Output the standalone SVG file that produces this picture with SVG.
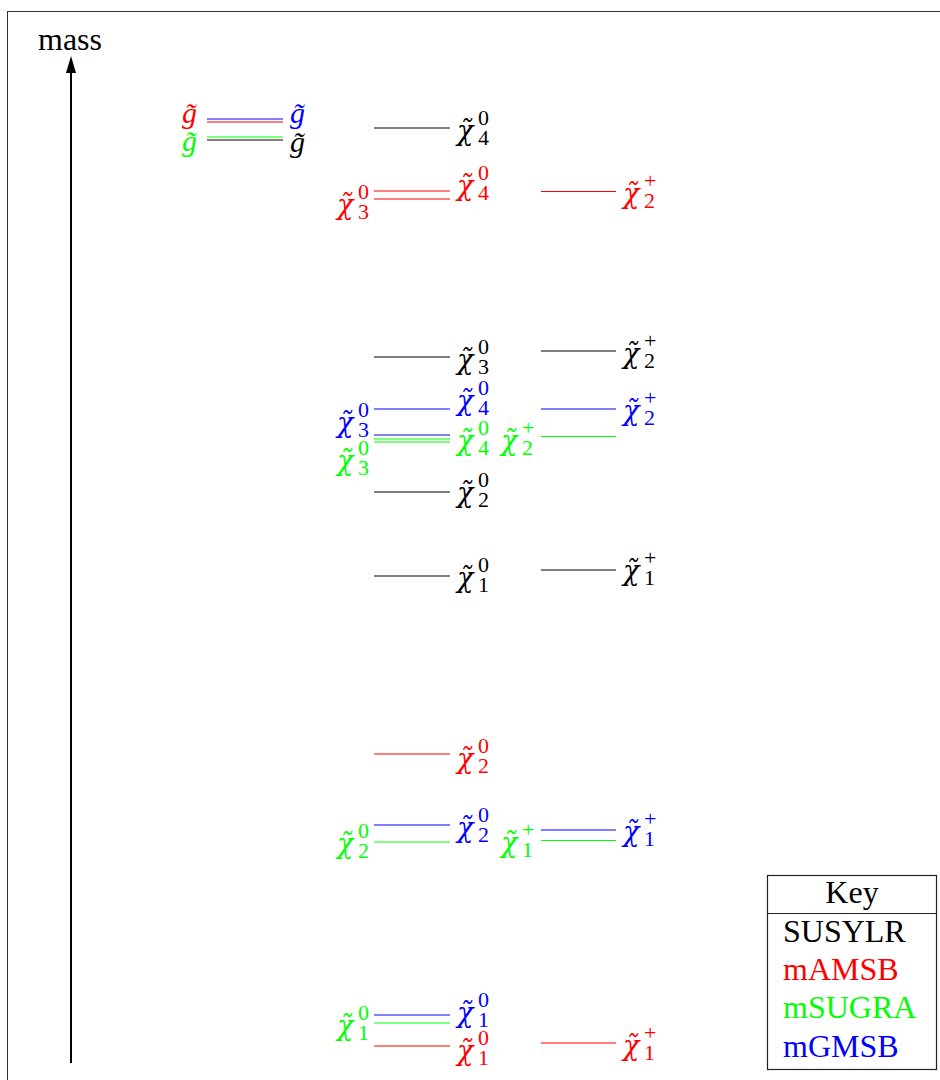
<svg xmlns="http://www.w3.org/2000/svg" width="940" height="1080" viewBox="0 0 940 1080">
<style>
text{font-family:"Liberation Serif","DejaVu Serif",serif;}
.m{font-style:italic;font-size:30px;}
.c{font-family:"DejaVu Serif",serif;font-style:italic;font-size:27px;}
.s{font-family:"Liberation Serif",serif;font-style:normal;font-size:22px;}
.t{font-size:32px;}
.lv{stroke-width:1.2;fill:none;}
.k{fill:#000;stroke:#000;}
.r{fill:#ff0000;stroke:#ff0000;}
.g{fill:#00ff00;stroke:#00ff00;}
.b{fill:#0000ff;stroke:#0000ff;}
text.k,text.r,text.g,text.b{stroke:none;}
</style>
<rect x="7.5" y="11.5" width="940" height="1080" fill="#fff" stroke="#333" stroke-width="1"/>
<g id="connectors">
<line x1="71" y1="1063" x2="71" y2="70" stroke="#000" stroke-width="2"/>
<polygon points="71,56 66,73 76,73" fill="#000"/>
</g>
<text x="38" y="50" class="t">mass</text>

<g id="gluino">
<line class="lv b" x1="207" y1="119" x2="283" y2="119"/>
<line class="lv r" x1="207" y1="122" x2="283" y2="122"/>
<line class="lv g" x1="207" y1="137" x2="283" y2="137"/>
<line class="lv k" x1="207" y1="140" x2="283" y2="140"/>
<text class="m r" x="182" y="123">g̃</text>
<text class="m b" x="290" y="123">g̃</text>
<text class="m g" x="182" y="151">g̃</text>
<text class="m k" x="290" y="152">g̃</text>
</g>

<g id="neutralino-levels">
<line class="lv k" x1="374" y1="128" x2="450" y2="128"/>
<line class="lv r" x1="374" y1="191" x2="450" y2="191"/>
<line class="lv r" x1="374" y1="199" x2="450" y2="199"/>
<line class="lv k" x1="374" y1="357" x2="450" y2="357"/>
<line class="lv b" x1="374" y1="409" x2="450" y2="409"/>
<line class="lv b" x1="374" y1="435" x2="450" y2="435"/>
<line class="lv g" x1="374" y1="439" x2="450" y2="439"/>
<line class="lv g" x1="374" y1="442" x2="450" y2="442"/>
<line class="lv k" x1="374" y1="492" x2="450" y2="492"/>
<line class="lv k" x1="374" y1="576" x2="450" y2="576"/>
<line class="lv r" x1="374" y1="754" x2="450" y2="754"/>
<line class="lv b" x1="374" y1="825" x2="450" y2="825"/>
<line class="lv g" x1="374" y1="842" x2="450" y2="842"/>
<line class="lv b" x1="374" y1="1015" x2="450" y2="1015"/>
<line class="lv g" x1="374" y1="1023" x2="450" y2="1023"/>
<line class="lv r" x1="374" y1="1046" x2="450" y2="1046"/>
</g>

<g id="chargino-levels">
<line class="lv r" x1="541" y1="191.5" x2="616" y2="191.5"/>
<line class="lv k" x1="541" y1="351" x2="616" y2="351"/>
<line class="lv b" x1="541" y1="409" x2="616" y2="409"/>
<line class="lv g" x1="541" y1="436.5" x2="616" y2="436.5"/>
<line class="lv k" x1="541" y1="570" x2="616" y2="570"/>
<line class="lv b" x1="541" y1="830" x2="616" y2="830"/>
<line class="lv g" x1="541" y1="840.5" x2="616" y2="840.5"/>
<line class="lv r" x1="541" y1="1043" x2="616" y2="1043"/>
</g>

<g id="labels">
<!-- neutralino right -->
<text class="c k" transform="translate(458,140)" x="-1" y="0">χ̃<tspan class="s" x="20" y="-15">0</tspan><tspan class="s" x="20" y="5">4</tspan></text>
<text class="c r" transform="translate(458,195)" x="-1" y="0">χ̃<tspan class="s" x="20" y="-15">0</tspan><tspan class="s" x="20" y="5">4</tspan></text>
<text class="c k" transform="translate(458,369)" x="-1" y="0">χ̃<tspan class="s" x="20" y="-15">0</tspan><tspan class="s" x="20" y="5">3</tspan></text>
<text class="c b" transform="translate(458,410)" x="-1" y="0">χ̃<tspan class="s" x="20" y="-15">0</tspan><tspan class="s" x="20" y="5">4</tspan></text>
<text class="c g" transform="translate(458,450)" x="-1" y="0">χ̃<tspan class="s" x="20" y="-15">0</tspan><tspan class="s" x="20" y="5">4</tspan></text>
<text class="c k" transform="translate(458,502)" x="-1" y="0">χ̃<tspan class="s" x="20" y="-15">0</tspan><tspan class="s" x="20" y="5">2</tspan></text>
<text class="c k" transform="translate(458,587)" x="-1" y="0">χ̃<tspan class="s" x="20" y="-15">0</tspan><tspan class="s" x="20" y="5">1</tspan></text>
<text class="c r" transform="translate(458,768)" x="-1" y="0">χ̃<tspan class="s" x="20" y="-15">0</tspan><tspan class="s" x="20" y="5">2</tspan></text>
<text class="c b" transform="translate(458,837)" x="-1" y="0">χ̃<tspan class="s" x="20" y="-15">0</tspan><tspan class="s" x="20" y="5">2</tspan></text>
<text class="c b" transform="translate(458,1022)" x="-1" y="0">χ̃<tspan class="s" x="20" y="-15">0</tspan><tspan class="s" x="20" y="5">1</tspan></text>
<text class="c r" transform="translate(458,1060)" x="-1" y="0">χ̃<tspan class="s" x="20" y="-15">0</tspan><tspan class="s" x="20" y="5">1</tspan></text>
<!-- neutralino left -->
<text class="c r" transform="translate(338,214)" x="-1" y="0">χ̃<tspan class="s" x="20" y="-15">0</tspan><tspan class="s" x="20" y="5">3</tspan></text>
<text class="c b" transform="translate(338,432)" x="-1" y="0">χ̃<tspan class="s" x="20" y="-15">0</tspan><tspan class="s" x="20" y="5">3</tspan></text>
<text class="c g" transform="translate(338,470)" x="-1" y="0">χ̃<tspan class="s" x="20" y="-15">0</tspan><tspan class="s" x="20" y="5">3</tspan></text>
<text class="c g" transform="translate(338,853)" x="-1" y="0">χ̃<tspan class="s" x="20" y="-15">0</tspan><tspan class="s" x="20" y="5">2</tspan></text>
<text class="c g" transform="translate(338,1035)" x="-1" y="0">χ̃<tspan class="s" x="20" y="-15">0</tspan><tspan class="s" x="20" y="5">1</tspan></text>
<!-- chargino right -->
<text class="c r" transform="translate(624,203)" x="-1" y="0">χ̃<tspan class="s" x="20" y="-15">+</tspan><tspan class="s" x="20" y="5">2</tspan></text>
<text class="c k" transform="translate(624,363)" x="-1" y="0">χ̃<tspan class="s" x="20" y="-15">+</tspan><tspan class="s" x="20" y="5">2</tspan></text>
<text class="c b" transform="translate(624,420)" x="-1" y="0">χ̃<tspan class="s" x="20" y="-15">+</tspan><tspan class="s" x="20" y="5">2</tspan></text>
<text class="c k" transform="translate(624,580)" x="-1" y="0">χ̃<tspan class="s" x="20" y="-15">+</tspan><tspan class="s" x="20" y="5">1</tspan></text>
<text class="c b" transform="translate(624,841)" x="-1" y="0">χ̃<tspan class="s" x="20" y="-15">+</tspan><tspan class="s" x="20" y="5">1</tspan></text>
<text class="c r" transform="translate(624,1055)" x="-1" y="0">χ̃<tspan class="s" x="20" y="-15">+</tspan><tspan class="s" x="20" y="5">1</tspan></text>
<!-- chargino left -->
<text class="c g" transform="translate(502,450)" x="-1" y="0">χ̃<tspan class="s" x="20" y="-15">+</tspan><tspan class="s" x="20" y="5">2</tspan></text>
<text class="c g" transform="translate(502,852)" x="-1" y="0">χ̃<tspan class="s" x="20" y="-15">+</tspan><tspan class="s" x="20" y="5">1</tspan></text>
</g>

<g id="key">
<rect x="767.5" y="875.5" width="169" height="194" fill="#fff" stroke="#222" stroke-width="1.2"/>
<line x1="767.5" y1="913.5" x2="936.5" y2="913.5" stroke="#222" stroke-width="1.2"/>
<text class="t" x="852" y="903" text-anchor="middle">Key</text>
<text class="t k" x="783" y="942">SUSYLR</text>
<text class="t r" x="783" y="980">mAMSB</text>
<text class="t g" x="783" y="1018">mSUGRA</text>
<text class="t b" x="783" y="1057">mGMSB</text>
</g>
</svg>
